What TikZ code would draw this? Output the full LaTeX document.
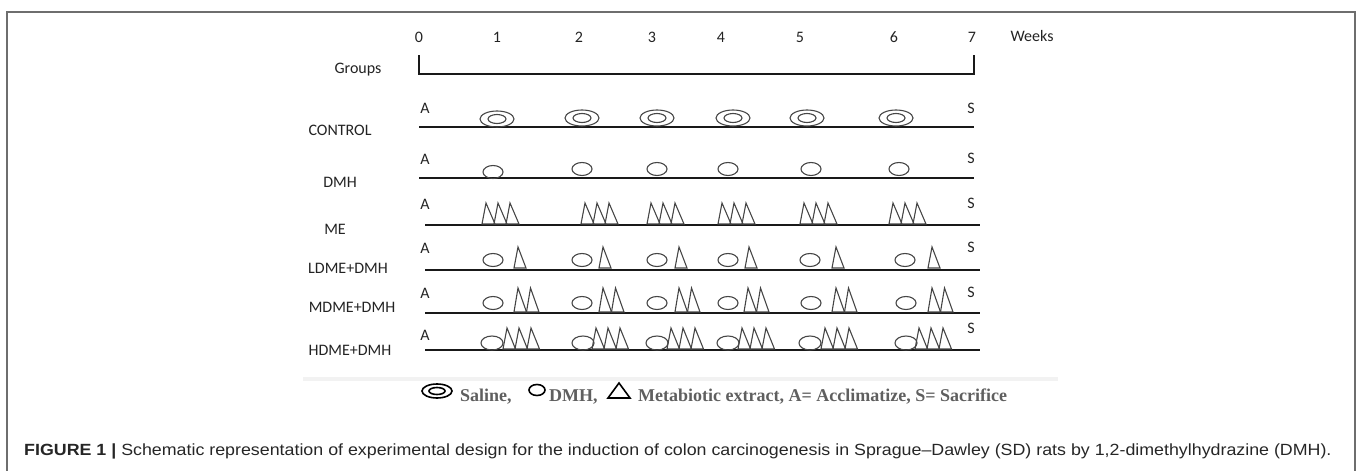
\documentclass[tikz,border=0pt]{standalone}
\usepackage{fontspec}
\setmainfont{Carlito}
\newfontfamily\capfont[FakeStretch=1.1]{Liberation Sans}
\newfontfamily\legfont{Liberation Serif}
\definecolor{framegray}{RGB}{110,110,110}
\definecolor{symbgray}{RGB}{70,70,70}
\definecolor{leggray}{RGB}{95,95,95}
\definecolor{txt}{RGB}{35,35,35}
\begin{document}
\begin{tikzpicture}[x=1pt,y=-1pt,
  lbl/.style={font=\fontsize{16}{18}\selectfont, text=txt, inner sep=0pt},
  rowline/.style={line width=1.8pt, draw=black!90},
  symb/.style={draw=symbgray, line width=1.1pt},
  legsymb/.style={draw=black, line width=1.6pt},
  legtxt/.style={font=\legfont\bfseries\fontsize{18}{20}\selectfont, text=leggray, inner sep=0pt, anchor=base west},
]
\useasboundingbox (0,0) rectangle (1358,471);
% frame
\draw[framegray, line width=1.3pt] (7,471) -- (7,12) -- (1355,12) -- (1355,471);
% faint band
\fill[black!5] (303,377) rectangle (1058,381);
% header
\foreach \x/\t [count=\i from 0] in {419/0,497/1,579/2,652/3,721/4,800/5,894/6,972/7}
  \node[lbl] (wk\i) at (\x,37) {\t};
\node[lbl] (weeks) at (1032,36) {Weeks};
\node[lbl] (groups) at (358,70) {Groups};
\draw[line width=1.4pt, black!90] (419,55) -- (419,74) -- (974,74) -- (974,55);
% row labels
\node[lbl] (gctl) at (340,130) {CONTROL};
\node[lbl] (gdmh) at (340,182) {DMH};
\node[lbl] (gme) at (335,229) {ME};
\node[lbl] (gl) at (348,268) {LDME+DMH};
\node[lbl] (gm) at (352,307) {MDME+DMH};
\node[lbl] (gh) at (350,350) {HDME+DMH};
% A and S labels
\foreach \y [count=\i] in {108,159,204,248,293,335}
  \node[lbl] (A\i) at (425,\y) {A};
\foreach \y [count=\i] in {108,158,203,247,292,328}
  \node[lbl] (S\i) at (971,\y) {S};
% row lines
\draw[rowline] (419,127) -- (974,127);
\draw[rowline] (419,178) -- (974,178);
\draw[rowline] (425,225) -- (980,225);
\draw[rowline] (425,270) -- (980,270);
\draw[rowline] (425,313) -- (980,313);
\draw[rowline] (425,350) -- (980,350);
% CONTROL: saline
\foreach \x/\y in {497/119,582/118,657/118,733/118,807/118,896/118}{
  \draw[symb] (\x,\y) ellipse[x radius=17pt, y radius=8pt];
  \draw[symb] (\x,\y) ellipse[x radius=9pt, y radius=4.5pt];
}
% DMH
\foreach \x/\y in {493/172,582/169,657/169,728/169,811/169,899/169}
  \draw[symb] (\x,\y) ellipse[x radius=10pt, y radius=6.5pt];
% ME
\foreach \x in {482,581,647,718,800,889}
  \foreach \k in {0,1,2}
    \draw[symb] (\x+12*\k,224) -- (\x+12*\k+4,203) -- (\x+12*\k+13,224) -- cycle;
% LDME
\foreach \c/\x in {493/514,582/599,657/675,728/745,810/832,905/928}{
  \draw[symb] (\c,260) ellipse[x radius=10pt, y radius=6.5pt];
  \draw[symb] (\x,268) -- (\x+4,247) -- (\x+12,268) -- cycle;
}
% MDME
\foreach \c/\x in {493/514,582/599,657/675,728/744,811/832,906/928}{
  \draw[symb] (\c,303) ellipse[x radius=10pt, y radius=6.5pt];
  \foreach \k in {0,1}
    \draw[symb] (\x+12.5*\k,312) -- (\x+12.5*\k+4,288) -- (\x+12.5*\k+12.5,312) -- cycle;
}
% HDME
\foreach \c/\x in {492/503,583/592,657/667,728/738,810/821,906/915}{
  \draw[symb] (\c,343) ellipse[x radius=11pt, y radius=7pt];
  \foreach \k in {0,1,2}
    \draw[symb] (\x+12*\k,349) -- (\x+12*\k+4,328) -- (\x+12*\k+12.5,349) -- cycle;
}
% legend
\draw[legsymb] (437,391) ellipse[x radius=15pt, y radius=7pt];
\draw[legsymb] (437,391) ellipse[x radius=8pt, y radius=3.5pt];
\node[legtxt] (lsal) at (460,401) {Saline,};
\draw[legsymb] (537,390) ellipse[x radius=8pt, y radius=5.5pt];
\node[legtxt] (ldmh) at (549,401) {DMH,};
\draw[legsymb] (608,398) -- (619,383) -- (630,398) -- cycle;
\node[legtxt] (lme) at (638,401) {Metabiotic extract, A= Acclimatize, S= Sacrifice};
% caption
\node[inner sep=0pt, anchor=base west, text=black!85, font=\capfont\fontsize{16.2}{19}\selectfont] (cap) at (24,455)
  {\textbf{FIGURE 1 |} Schematic representation of experimental design for the induction of colon carcinogenesis in Sprague–Dawley (SD) rats by 1,2-dimethylhydrazine (DMH).};
\end{tikzpicture}
\end{document}
